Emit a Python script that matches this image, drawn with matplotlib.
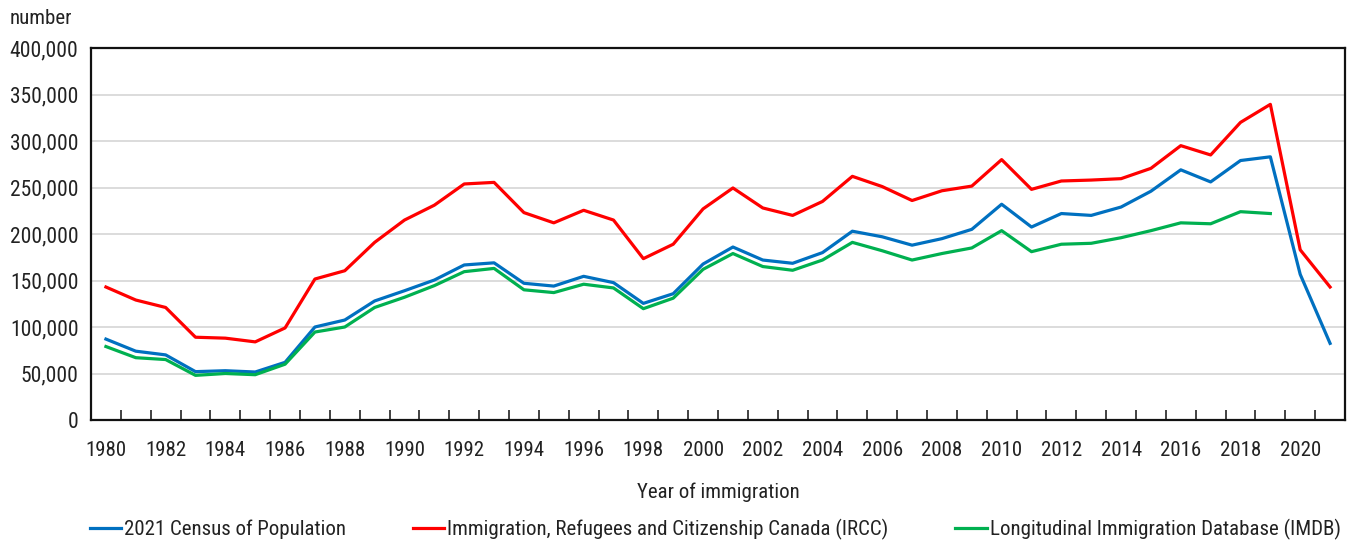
import matplotlib.pyplot as plt
import numpy as np
from matplotlib.ticker import FuncFormatter

years = list(range(1980, 2022))

# 2021 Census of Population
census = [87000, 74000, 70000, 52000, 53000, 51600, 62000, 100000, 107500, 128000,
          139000, 150500, 166700, 169000, 147000, 144000, 154500, 147700, 125400, 135800,
          167700, 186000, 172000, 168500, 180000, 203000, 197000, 188000, 195000, 205000,
          232000, 207500, 222000, 220000, 229000, 246000, 269000, 256000, 279000, 283000,
          156600, 82400]

# IRCC
ircc = [143000, 129000, 121000, 89000, 88000, 84000, 99000, 151600, 160500, 191000,
        215000, 231000, 253800, 255500, 223000, 212000, 225500, 215000, 173500, 189000,
        227000, 249500, 228000, 220000, 235000, 262000, 251000, 236000, 246500, 251500,
        280000, 248000, 257000, 258000, 259500, 270600, 295000, 285000, 320000, 339400,
        183000, 143000]

# IMDB (ends 2019)
imdb = [79000, 67000, 65000, 48000, 50000, 48700, 60000, 94600, 100000, 121000,
        132000, 144500, 159500, 163000, 140000, 137000, 146000, 142000, 119700, 131000,
        162000, 179000, 165000, 161000, 172000, 191000, 182000, 172000, 179000, 185000,
        203600, 181000, 189000, 190000, 196000, 203600, 212000, 211000, 224000, 222000]

plt.rcParams['font.family'] = ['Roboto Condensed', 'DejaVu Sans']
txtc = '#222222'
fs = 15

fig = plt.figure(figsize=(13.55, 5.41), dpi=100)
ax = fig.add_axes([91/1355, 121/541, 1254/1355, 372/541])

lw = 2.3
ax.plot(years, census, color='#0070C0', lw=lw, label='2021 Census of Population', zorder=3)
ax.plot(years, ircc, color='#FF0000', lw=lw,
        label='Immigration, Refugees and Citizenship Canada (IRCC)', zorder=3)
ax.plot(years[:len(imdb)], imdb, color='#00B050', lw=lw,
        label='Longitudinal Immigration Database (IMDB)', zorder=3)

ax.set_xlim(1979.5, 2021.5)
ax.set_ylim(0, 400000)
ax.set_yticks(np.arange(0, 400001, 50000))
ax.yaxis.set_major_formatter(FuncFormatter(lambda v, p: '{:,.0f}'.format(v)))
ax.set_xticks(years[::2])
ax.set_xticks(np.arange(1980.5, 2021, 1), minor=True)
ax.tick_params(axis='x', which='major', length=0, pad=15, labelsize=fs, colors=txtc)
ax.tick_params(axis='x', which='minor', direction='in', length=7, width=1.3, color='#333333')
ax.tick_params(axis='y', length=0, pad=9, labelsize=15.5, colors=txtc)

ax.grid(axis='y', color='#d9d9d9', lw=1.3)
ax.set_axisbelow(True)
for s in ax.spines.values():
    s.set_linewidth(1.6)
    s.set_color('#111111')

ax.set_xlabel('Year of immigration', fontsize=fs, color=txtc, labelpad=16)
fig.text(10/1355, 1 - 18/541, 'number', fontsize=fs, color=txtc, va='center', ha='left')

fig.legend(loc='center left', bbox_to_anchor=(90/1355, 1 - 529/541), ncol=3, frameon=False,
           fontsize=fs, handlelength=1.5, handletextpad=0.15, columnspacing=3.2,
           borderaxespad=0, borderpad=0, labelcolor=txtc)

fig.savefig('out.png', dpi=100)
